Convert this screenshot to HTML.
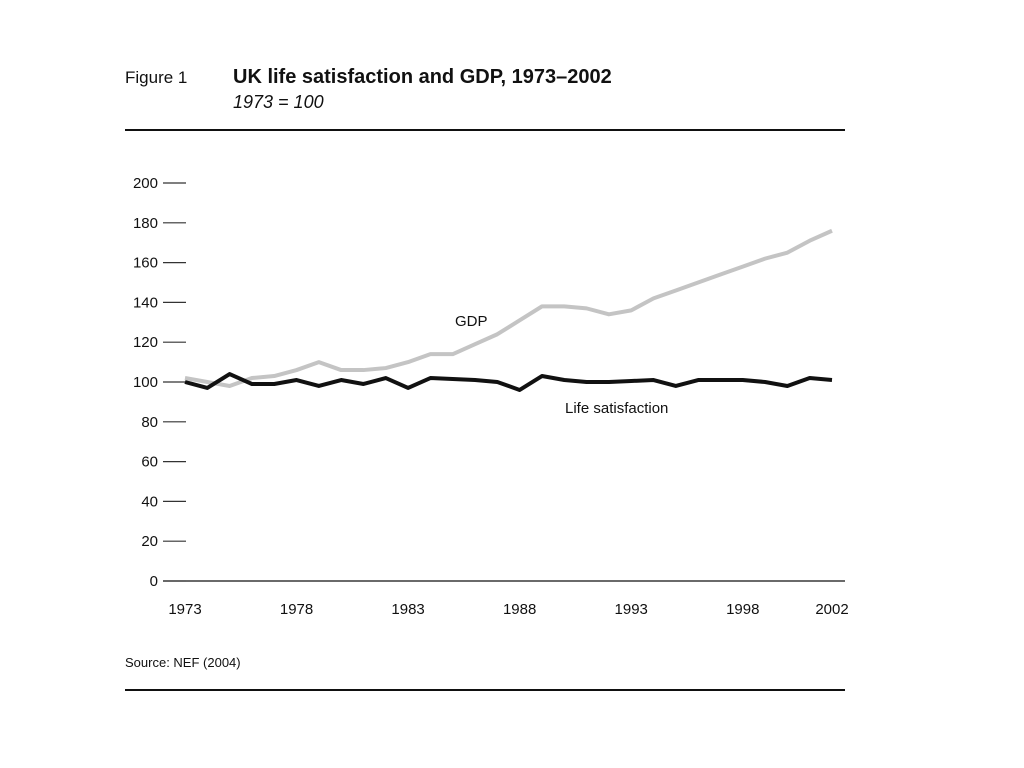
<!DOCTYPE html>
<html><head><meta charset="utf-8"><style>
body{margin:0;background:#fff;width:1024px;height:768px;overflow:hidden;font-family:"Liberation Sans",sans-serif;}
</style></head><body>
<svg width="1024" height="768" style="position:absolute;left:0;top:0">
<text x="125" y="83" font-size="17" fill="#111">Figure 1</text>
<text x="233" y="83" font-size="20" font-weight="bold" fill="#111">UK life satisfaction and GDP, 1973–2002</text>
<text x="233" y="108" font-size="18" font-style="italic" fill="#111">1973 = 100</text>
<rect x="125" y="129" width="720" height="2" fill="#111"/>
<rect x="125" y="689" width="720" height="2" fill="#111"/>
<text x="125" y="667" font-size="13" fill="#111">Source: NEF (2004)</text>
<g id="axes"></g>
<g id="lines"></g>
<text x="455" y="326" font-size="15" fill="#111">GDP</text>
<text x="565" y="413" font-size="15" fill="#111">Life satisfaction</text>
</svg>
<script>
const years=[];for(let y=1973;y<=2002;y++)years.push(y);
const gdp=[102,100,98,102,103,106,110,106,106,107,110,114,114,119,124,131,138,138,137,134,136,142,146,150,154,158,162,165,171,176];
const life=[100,97,104,99,99,101,98,101,99,102,97,102,101.5,101,100,96,103,101,100,100,100.5,101,98,101,101,101,100,98,102,101];
const yTicks=[0,20,40,60,80,100,120,140,160,180,200];
const xTicks=[1973,1978,1983,1988,1993,1998,2002];
const NS='http://www.w3.org/2000/svg';
const X=v=>185+(v-1973)*(832-185)/29;
const Y=v=>581-v*(581-183)/200;
const ax=document.getElementById('axes'),ln=document.getElementById('lines');
function mk(t,a,p){const e=document.createElementNS(NS,t);for(const k in a)e.setAttribute(k,a[k]);p.appendChild(e);return e;}
const base=mk('line',{x1:163,x2:845,y1:Y(0),y2:Y(0),stroke:'#111','stroke-width':1.2},ax);


yTicks.forEach(v=>{
 const t=mk('line',{x1:163,x2:186,y1:Y(v),y2:Y(v),stroke:'#333','stroke-width':1.2},ax);
 
 
 const l=mk('text',{x:158,y:Y(v)+5,'text-anchor':'end','font-size':15,fill:'#111'},ax);l.textContent=v;
 
 
});
xTicks.forEach(v=>{
 const l=mk('text',{x:X(v),y:614,'text-anchor':'middle','font-size':15,fill:'#111'},ax);l.textContent=v;
 
 
});
const g=mk('polyline',{points:years.map((y,i)=>X(y)+','+Y(gdp[i])).join(' '),fill:'none',stroke:'#c4c4c4','stroke-width':4,'stroke-linejoin':'round'},ln);


const s=mk('polyline',{points:years.map((y,i)=>X(y)+','+Y(life[i])).join(' '),fill:'none',stroke:'#111','stroke-width':4,'stroke-linejoin':'round'},ln);


</script>
</body></html>
